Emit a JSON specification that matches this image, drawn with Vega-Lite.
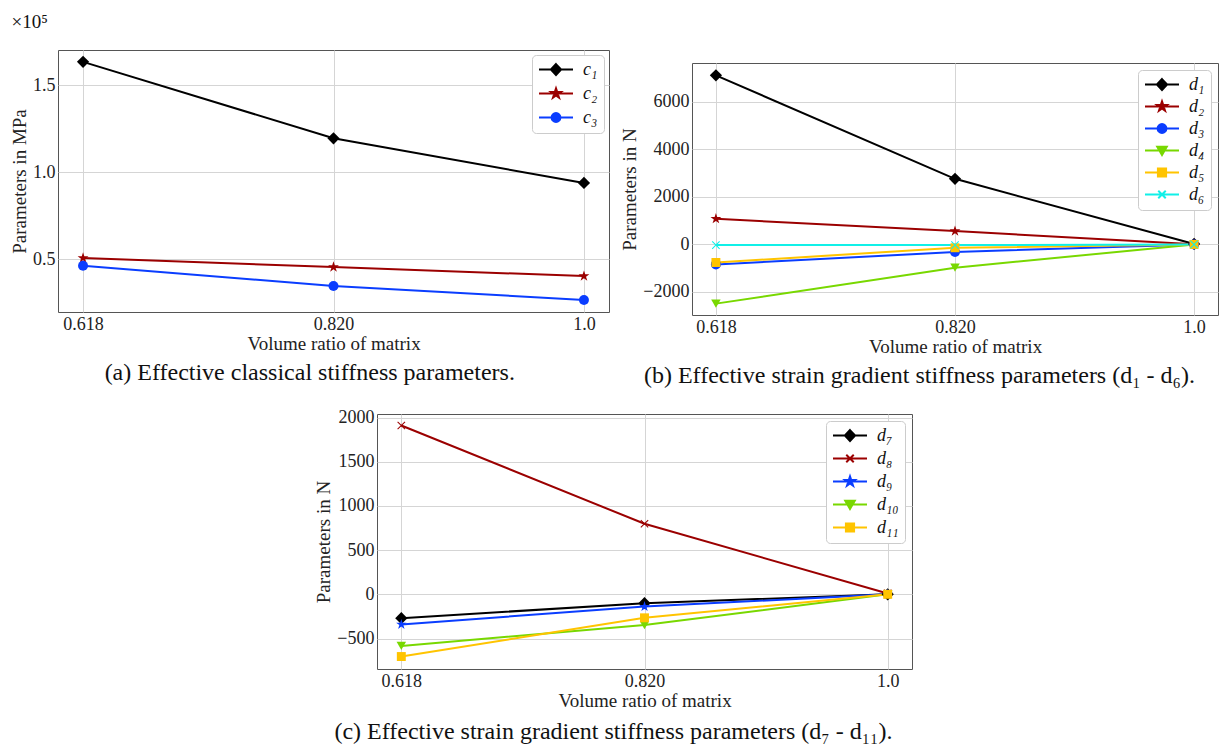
{
  "$schema": "https://vega.github.io/schema/vega-lite/v6.json",
  "background": "white",
  "padding": {"left": 10, "top": 12, "right": 2, "bottom": 0},
  "datasets": {
    "a": [
      {"ratio": "0.618", "param": "c₁", "value": 163400},
      {"ratio": "0.820", "param": "c₁", "value": 119500},
      {"ratio": "1.0", "param": "c₁", "value": 93900},
      {"ratio": "0.618", "param": "c₂", "value": 50800},
      {"ratio": "0.820", "param": "c₂", "value": 45600},
      {"ratio": "1.0", "param": "c₂", "value": 40400},
      {"ratio": "0.618", "param": "c₃", "value": 46400},
      {"ratio": "0.820", "param": "c₃", "value": 34700},
      {"ratio": "1.0", "param": "c₃", "value": 26700}
    ],
    "b": [
      {"ratio": "0.618", "param": "d₁", "value": 7110},
      {"ratio": "0.820", "param": "d₁", "value": 2760},
      {"ratio": "1.0", "param": "d₁", "value": 20},
      {"ratio": "0.618", "param": "d₂", "value": 1080},
      {"ratio": "0.820", "param": "d₂", "value": 560},
      {"ratio": "1.0", "param": "d₂", "value": 10},
      {"ratio": "0.618", "param": "d₃", "value": -840},
      {"ratio": "0.820", "param": "d₃", "value": -320},
      {"ratio": "1.0", "param": "d₃", "value": 0},
      {"ratio": "0.618", "param": "d₄", "value": -2490},
      {"ratio": "0.820", "param": "d₄", "value": -980},
      {"ratio": "1.0", "param": "d₄", "value": 0},
      {"ratio": "0.618", "param": "d₅", "value": -760},
      {"ratio": "0.820", "param": "d₅", "value": -140},
      {"ratio": "1.0", "param": "d₅", "value": 0},
      {"ratio": "0.618", "param": "d₆", "value": -28},
      {"ratio": "0.820", "param": "d₆", "value": -28},
      {"ratio": "1.0", "param": "d₆", "value": 0}
    ],
    "c": [
      {"ratio": "0.618", "param": "d₇", "value": -270},
      {"ratio": "0.820", "param": "d₇", "value": -101},
      {"ratio": "1.0", "param": "d₇", "value": 0},
      {"ratio": "0.618", "param": "d₈", "value": 1910},
      {"ratio": "0.820", "param": "d₈", "value": 798},
      {"ratio": "1.0", "param": "d₈", "value": 10},
      {"ratio": "0.618", "param": "d₉", "value": -341},
      {"ratio": "0.820", "param": "d₉", "value": -139},
      {"ratio": "1.0", "param": "d₉", "value": 0},
      {"ratio": "0.618", "param": "d₁₀", "value": -584},
      {"ratio": "0.820", "param": "d₁₀", "value": -348},
      {"ratio": "1.0", "param": "d₁₀", "value": 0},
      {"ratio": "0.618", "param": "d₁₁", "value": -704},
      {"ratio": "0.820", "param": "d₁₁", "value": -266},
      {"ratio": "1.0", "param": "d₁₁", "value": 0}
    ]
  },
  "config": {
    "font": "Liberation Serif",
    "view": {"stroke": "#555555", "strokeWidth": 1},
    "axis": {
      "grid": true, "gridColor": "#d5d5d5", "gridWidth": 1, "domain": false, "ticks": false,
      "labelFont": "Liberation Serif", "labelFontSize": 18, "labelColor": "#222222", "labelPadding": 3,
      "titleFont": "Liberation Serif", "titleFontSize": 19, "titleFontWeight": "normal", "titleColor": "#222222"
    },
    "axisX": {"labelAngle": 0, "titlePadding": 1, "labelPadding": 3},
    "axisY": {"titlePadding": 3, "labelPadding": 3},
    "legend": {
      "fillColor": "white", "strokeColor": "#cccccc", "cornerRadius": 4,
      "padding": 6, "symbolSize": 1156, "symbolStrokeWidth": 2, "clipHeight": 17, "labelOffset": 9, "rowPadding": 5,
      "labelFont": "Liberation Serif", "labelFontStyle": "italic", "labelFontSize": 18, "labelColor": "#111111"
    },
    "title": {"font": "Liberation Serif", "fontWeight": "normal", "color": "#111111"}
  },
  "spacing": 20,
  "resolve": {"scale": {"color": "independent", "shape": "independent"}},
  "vconcat": [
    {
      "spacing": 10,
      "resolve": {"scale": {"color": "independent", "shape": "independent"}},
      "hconcat": [
        {
          "title": {"text": "(a) Effective classical stiffness parameters.", "orient": "bottom", "anchor": "middle", "frame": "bounds", "fontSize": 24, "offset": 7},
          "resolve": {"scale": {"color": "independent", "shape": "independent"}},
          "vconcat": [
            {
              "width": 551, "height": 262,
              "title": {"text": "×10⁵", "anchor": "start", "frame": "bounds", "fontSize": 19, "offset": 18, "dx": 1},
              "data": {"name": "a"},
              "encoding": {
                "x": {"field": "ratio", "type": "ordinal", "scale": {"type": "point", "padding": 0.1, "domain": ["0.618", "0.820", "1.0"]}, "axis": {"title": "Volume ratio of matrix"}},
                "y": {"field": "value", "type": "quantitative", "scale": {"domain": [19800, 170200], "nice": false, "zero": false}, "axis": {"title": "Parameters in MPa", "values": [50000, 100000, 150000], "labelExpr": "format(datum.value/100000,'.1f')"}},
                "color": {"field": "param", "type": "nominal", "scale": {"domain": ["c₁", "c₂", "c₃"], "range": ["#000000", "#9b0000", "#0a3dff"]}, "legend": {"title": null, "orient": "top-right", "offset": 5, "rowPadding": 5}}
              },
              "layer": [
                {"mark": {"type": "line", "strokeWidth": 2}},
                {"mark": {"type": "point", "filled": true, "opacity": 1,
                  "shape": {"expr": "['diamond','M0,-1L0.225,-0.309L0.951,-0.309L0.363,0.118L0.588,0.809L0,0.382L-0.588,0.809L-0.363,0.118L-0.951,-0.309L-0.225,-0.309Z','circle'][indexof(['c₁','c₂','c₃'], datum.param)]"},
                  "size": {"expr": "[150,130,100][indexof(['c₁','c₂','c₃'], datum.param)]"}}},
                {"transform": [{"filter": "false"}],
                  "mark": {"type": "point", "filled": true, "opacity": 1},
                  "encoding": {
                    "shape": {"field": "param", "type": "nominal", "scale": {"domain": ["c₁", "c₂", "c₃"], "range": ["M-1,0H1M0,-0.32L0.3,0L0,0.32L-0.3,0Z", "M-1,0H1M0,-0.3L0.067,-0.093L0.285,-0.093L0.109,0.035L0.176,0.243L0,0.115L-0.176,0.243L-0.109,0.035L-0.285,-0.093L-0.067,-0.093Z", "M-1,0H1M-0.26,0A0.26,0.26,0,1,0,0.26,0A0.26,0.26,0,1,0,-0.26,0Z"]}, "legend": {"title": null, "orient": "top-right", "offset": 5, "rowPadding": 5}}
                  }
                }
              ]
            }
          ]
        },
        {
          "title": {"text": "(b) Effective strain gradient stiffness parameters (d₁ - d₆).", "orient": "bottom", "anchor": "middle", "frame": "bounds", "fontSize": 24, "offset": 7},
          "resolve": {"scale": {"color": "independent", "shape": "independent"}},
          "spacing": 11,
          "vconcat": [
            {"width": 10, "height": 1, "data": {"values": []}, "mark": "point", "view": {"stroke": null}},
            {
              "width": 526, "height": 252,
              "data": {"name": "b"},
              "encoding": {
                "x": {"field": "ratio", "type": "ordinal", "scale": {"type": "point", "padding": 0.1, "domain": ["0.618", "0.820", "1.0"]}, "axis": {"title": "Volume ratio of matrix"}},
                "y": {"field": "value", "type": "quantitative", "scale": {"domain": [-2968, 7630], "nice": false, "zero": false}, "axis": {"title": "Parameters in N", "values": [-2000, 0, 2000, 4000, 6000], "format": "d"}},
                "color": {"field": "param", "type": "nominal", "scale": {"domain": ["d₁", "d₂", "d₃", "d₄", "d₅", "d₆"], "range": ["#000000", "#9b0000", "#0a3dff", "#78d800", "#ffc400", "#10f0e8"]}, "legend": {"title": null, "orient": "top-right", "offset": 7, "rowPadding": 3}}
              },
              "layer": [
                {"mark": {"type": "line", "strokeWidth": 2}},
                {"mark": {"type": "point", "filled": true, "opacity": 1,
                  "shape": {"expr": "['diamond','M0,-1L0.225,-0.309L0.951,-0.309L0.363,0.118L0.588,0.809L0,0.382L-0.588,0.809L-0.363,0.118L-0.951,-0.309L-0.225,-0.309Z','circle','triangle-down','square','M0.636,-0.778L0.778,-0.636L0.141,0L0.778,0.636L0.636,0.778L0,0.141L-0.636,0.778L-0.778,0.636L-0.141,0L-0.778,-0.636L-0.636,-0.778L0,-0.141Z'][indexof(['d₁','d₂','d₃','d₄','d₅','d₆'], datum.param)]"},
                  "size": {"expr": "[150,130,100,90,80,110][indexof(['d₁','d₂','d₃','d₄','d₅','d₆'], datum.param)]"}}},
                {"transform": [{"filter": "false"}],
                  "mark": {"type": "point", "filled": true, "opacity": 1},
                  "encoding": {
                    "shape": {"field": "param", "type": "nominal", "scale": {"domain": ["d₁", "d₂", "d₃", "d₄", "d₅", "d₆"], "range": ["M-1,0H1M0,-0.32L0.3,0L0,0.32L-0.3,0Z", "M-1,0H1M0,-0.3L0.067,-0.093L0.285,-0.093L0.109,0.035L0.176,0.243L0,0.115L-0.176,0.243L-0.109,0.035L-0.285,-0.093L-0.067,-0.093Z", "M-1,0H1M-0.26,0A0.26,0.26,0,1,0,0.26,0A0.26,0.26,0,1,0,-0.26,0Z", "M-1,0H1M-0.28,-0.22L0.28,-0.22L0,0.26Z", "M-1,0H1M-0.24,-0.24H0.24V0.24H-0.24Z", "M-1,0H1M-0.22,-0.22L0.22,0.22M-0.22,0.22L0.22,-0.22"]}, "legend": {"title": null, "orient": "top-right", "offset": 7, "rowPadding": 3}}
                  }
                }
              ]
            }
          ]
        }
      ]
    },
    {
      "spacing": 10,
      "resolve": {"scale": {"color": "independent", "shape": "independent"}},
      "hconcat": [
        {"width": 246, "height": 1, "data": {"values": []}, "mark": "point", "view": {"stroke": null}},
        {
          "title": {"text": "(c) Effective strain gradient stiffness parameters (d₇ - d₁₁).", "orient": "bottom", "anchor": "middle", "frame": "bounds", "fontSize": 24, "offset": 9},
          "resolve": {"scale": {"color": "independent", "shape": "independent"}},
          "vconcat": [
            {
              "width": 535, "height": 255,
              "data": {"name": "c"},
              "encoding": {
                "x": {"field": "ratio", "type": "ordinal", "scale": {"type": "point", "padding": 0.1, "domain": ["0.618", "0.820", "1.0"]}, "axis": {"title": "Volume ratio of matrix"}},
                "y": {"field": "value", "type": "quantitative", "scale": {"domain": [-845, 2040], "nice": false, "zero": false}, "axis": {"title": "Parameters in N", "values": [-500, 0, 500, 1000, 1500, 2000], "format": "d"}},
                "color": {"field": "param", "type": "nominal", "scale": {"domain": ["d₇", "d₈", "d₉", "d₁₀", "d₁₁"], "range": ["#000000", "#9b0000", "#0a3dff", "#78d800", "#ffc400"]}, "legend": {"title": null, "orient": "top-right", "offset": 7, "rowPadding": 4}}
              },
              "layer": [
                {"mark": {"type": "line", "strokeWidth": 2}},
                {"mark": {"type": "point", "filled": true, "opacity": 1,
                  "shape": {"expr": "['diamond','M0.636,-0.778L0.778,-0.636L0.141,0L0.778,0.636L0.636,0.778L0,0.141L-0.636,0.778L-0.778,0.636L-0.141,0L-0.778,-0.636L-0.636,-0.778L0,-0.141Z','M0,-1L0.225,-0.309L0.951,-0.309L0.363,0.118L0.588,0.809L0,0.382L-0.588,0.809L-0.363,0.118L-0.951,-0.309L-0.225,-0.309Z','triangle-down','square'][indexof(['d₇','d₈','d₉','d₁₀','d₁₁'], datum.param)]"},
                  "size": {"expr": "[150,110,120,90,80][indexof(['d₇','d₈','d₉','d₁₀','d₁₁'], datum.param)]"}}},
                {"transform": [{"filter": "false"}],
                  "mark": {"type": "point", "filled": true, "opacity": 1},
                  "encoding": {
                    "shape": {"field": "param", "type": "nominal", "scale": {"domain": ["d₇", "d₈", "d₉", "d₁₀", "d₁₁"], "range": ["M-1,0H1M0,-0.32L0.3,0L0,0.32L-0.3,0Z", "M-1,0H1M-0.22,-0.22L0.22,0.22M-0.22,0.22L0.22,-0.22", "M-1,0H1M0,-0.3L0.067,-0.093L0.285,-0.093L0.109,0.035L0.176,0.243L0,0.115L-0.176,0.243L-0.109,0.035L-0.285,-0.093L-0.067,-0.093Z", "M-1,0H1M-0.28,-0.22L0.28,-0.22L0,0.26Z", "M-1,0H1M-0.24,-0.24H0.24V0.24H-0.24Z"]}, "legend": {"title": null, "orient": "top-right", "offset": 7, "rowPadding": 4}}
                  }
                }
              ]
            }
          ]
        }
      ]
    }
  ]
}
